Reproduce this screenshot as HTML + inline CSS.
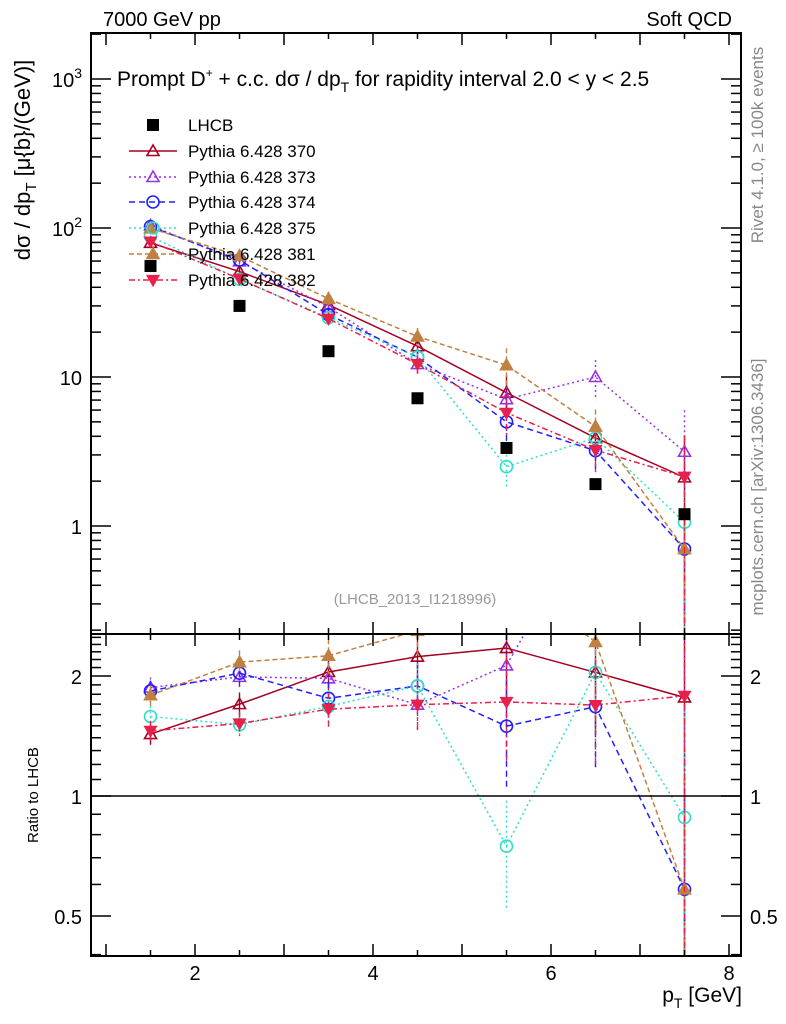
<!DOCTYPE html>
<html><head><meta charset="utf-8">
<style>
html,body{margin:0;padding:0;background:#fff;width:786px;height:1024px;overflow:hidden;}
svg{display:block;font-family:"Liberation Sans",sans-serif;}
</style></head>
<body>
<svg id="chart" width="786" height="1024" viewBox="0 0 786 1024">
<text x="103" y="26" font-size="20">7000 GeV pp</text>
<text x="732" y="26" font-size="20" text-anchor="end">Soft QCD</text>
<text transform="translate(763,145) rotate(-90)" font-size="17" fill="#888" text-anchor="middle">Rivet 4.1.0, ≥ 100k events</text>
<text transform="translate(763,487) rotate(-90)" font-size="17" fill="#888" text-anchor="middle">mcplots.cern.ch [arXiv:1306.3436]</text>
<text transform="translate(30,160) rotate(-90)" font-size="22" text-anchor="middle">dσ / dp<tspan font-size="15" dy="6">T</tspan><tspan dy="-6"> [μ{b}/(GeV)]</tspan></text>
<text transform="translate(38,795) rotate(-90)" font-size="15" text-anchor="middle">Ratio to LHCB</text>
<text x="742" y="1002" font-size="21" text-anchor="end">p<tspan font-size="14" dy="6">T</tspan><tspan dy="-6"> [GeV]</tspan></text>
<text x="117" y="86" font-size="21">Prompt D<tspan font-size="12" dy="-9">+</tspan><tspan dy="9"> + c.c.  dσ / dp</tspan><tspan font-size="14" dy="6">T</tspan><tspan dy="-6"> for rapidity interval 2.0 &lt; y &lt; 2.5</tspan></text>
<text x="415" y="604" font-size="15" fill="#999" text-anchor="middle">(LHCB_2013_I1218996)</text>
<g id="main"></g>
<g id="ratio"></g>
<g id="legend"></g>
</svg>
<script>
const xCenters = [1.5,2.5,3.5,4.5,5.5,6.5,7.5];
const dataLHCB = [55.6,30,14.9,7.2,3.34,1.91,1.2];
const s370 = [79.5,51,30.5,16.1,7.85,3.9,2.12];
const s373 = [104,59.7,29.4,12.2,7.1,10,3.15];
const s374 = [102,61,26.2,13.6,5.0,3.2,0.70];
const s375 = [88,45.3,25,13.6,2.5,3.9,1.06];
const s381 = [99.5,65,33.5,18.7,12,4.65,0.70];
const s382 = [81,45.6,24.6,12.2,5.75,3.23,2.14];
const relErr = [0.06,0.07,0.1,0.14,0.3,0.3,0.9];
const xTicks = [2,4,6,8];
const yTicks = [1,10,100,1000];
const yTickLabels = ["1","10","10²","10³"];
const rTicks = [0.5,1,2];
const rTickLabels = ["0.5","1","2"];
const legendNames = ["LHCB","Pythia 6.428 370","Pythia 6.428 373","Pythia 6.428 374","Pythia 6.428 375","Pythia 6.428 381","Pythia 6.428 382"];

const NS="http://www.w3.org/2000/svg";
const L=91,R=741,T=33,MB=634,RB=956;
const X=v=>195+(v-2)*89;
const Y=v=>79+(3-Math.log10(v))*149;
const RY=v=>796-120*Math.log2(v);
function mk(parent,tag,attrs){const e=document.createElementNS(NS,tag);for(const k in attrs)e.setAttribute(k,attrs[k]);parent.appendChild(e);return e;}
const svgRoot=document.getElementById('chart');
const main=document.getElementById('main'),ratio=document.getElementById('ratio'),leg=document.getElementById('legend');

const series=[
 {name:'pythia-370',v:s370,c:'#a50021',dash:'',m:'tri-open'},
 {name:'pythia-373',v:s373,c:'#9932e6',dash:'2,3',m:'tri-open'},
 {name:'pythia-374',v:s374,c:'#1f1fff',dash:'6,4',m:'circ-open'},
 {name:'pythia-375',v:s375,c:'#2ee0c8',dash:'2,3',m:'circ-open'},
 {name:'pythia-381',v:s381,c:'#c08040',dash:'5,3',m:'tri-fill'},
 {name:'pythia-382',v:s382,c:'#e8204c',dash:'6,3,2,3',m:'itri-fill'}
];

const defs=mk(svgRoot,'defs',{});
const c1=mk(defs,'clipPath',{id:'cm'});mk(c1,'rect',{x:L,y:T,width:R-L,height:MB-T});
const c2=mk(defs,'clipPath',{id:'cr'});mk(c2,'rect',{x:L,y:MB,width:R-L,height:RB-MB});

function marker(g,type,x,y,c,s){
 s=s||6;let e;
 if(type==='tri-open'||type==='tri-fill'){e=mk(g,'polygon',{points:`${x},${y-s} ${x-s},${y+s*0.75} ${x+s},${y+s*0.75}`,fill:type==='tri-fill'?c:'none',stroke:c,'stroke-width':1.6});}
 else if(type==='itri-fill'){e=mk(g,'polygon',{points:`${x},${y+s} ${x-s},${y-s*0.75} ${x+s},${y-s*0.75}`,fill:c,stroke:c,'stroke-width':1.2});}
 else if(type==='circ-open'){e=mk(g,'circle',{cx:x,cy:y,r:s,fill:'none',stroke:c,'stroke-width':1.6});}
 else {e=mk(g,'rect',{x:x-6,y:y-6,width:12,height:12,fill:'#000'});}
 return e;
}

function drawSeries(parent,clip,vals,fy,s,isRatio){
 const top=isRatio?MB:T, bot=isRatio?RB:MB;
 const clamp=y=>Math.min(bot,Math.max(top,y));
 const g=mk(parent,'g',{'clip-path':`url(#${clip})`});
 
 
 const pts=vals.map((v,i)=>`${X(xCenters[i])},${fy(v)}`).join(' ');
 const line=mk(g,'polyline',{points:pts,fill:'none',stroke:s.c,'stroke-width':1.5,'stroke-dasharray':s.dash});
 
 
 vals.forEach((v,i)=>{
  const x=X(xCenters[i]);const e=relErr[i];
  const lo=Math.max(v*(1-e),v*0.05);
  const eb=mk(g,'line',{x1:x,x2:x,y1:clamp(fy(v*(1+e))),y2:clamp(fy(lo)),stroke:s.c,'stroke-width':1.4,'stroke-dasharray':s.dash});
  
  
  const py=fy(v);
  if(py>top-10&&py<bot+10){
   const m=marker(g,s.m,x,py,s.c);
   
   
  }
 });
}

series.forEach(s=>drawSeries(main,'cm',s.v,Y,s,false));
dataLHCB.forEach((v,i)=>{const m=marker(main,'sq',X(xCenters[i]),Y(v));
 
 });

series.forEach(s=>drawSeries(ratio,'cr',s.v.map((v,i)=>v/dataLHCB[i]),RY,s,true));
const one=mk(ratio,'line',{x1:L,x2:R,y1:RY(1),y2:RY(1),stroke:'#000','stroke-width':1.5});



const f1=mk(main,'rect',{x:L,y:T,width:R-L,height:MB-T,fill:'none',stroke:'#000','stroke-width':2});


const f2=mk(ratio,'rect',{x:L,y:MB,width:R-L,height:RB-MB,fill:'none',stroke:'#000','stroke-width':2});



const ax=mk(svgRoot,'g',{stroke:'#000','stroke-width':1.5});


for(let v=1;v<=8;v+=0.5){const x=X(v);if(x<L||x>R)continue;const len=(v%1===0)?12:6;
 [[T,1],[MB,-1],[MB,1],[RB,-1]].forEach(([y,d])=>mk(ax,'line',{x1:x,x2:x,y1:y,y2:y+d*len}));}
xTicks.forEach(v=>{const t=mk(svgRoot,'text',{x:X(v),y:980,'font-size':20,'text-anchor':'middle'});t.textContent=v;
 
 });

for(let d=-1;d<=3;d++){for(let k=1;k<=9;k++){const v=k*Math.pow(10,d);const y=Y(v);if(y<T||y>MB)continue;const len=k===1?20:10;
 mk(ax,'line',{x1:L,x2:L+len,y1:y,y2:y});mk(ax,'line',{x1:R,x2:R-len,y1:y,y2:y});}}
yTicks.forEach((v,i)=>{const t=mk(svgRoot,'text',{x:82,y:Y(v)+8,'font-size':20,'text-anchor':'end'});
 const lab=yTickLabels[i];
 if(lab.length>2&&lab.startsWith('10')){t.textContent='10';const sp=mk(t,'tspan',{'font-size':14,dy:-9});sp.textContent=lab.slice(2)==='³'?'3':'2';}
 else t.textContent=lab;
 
 });

for(const v of [0.4,0.5,0.6,0.7,0.8,0.9,1,1.1,1.2,1.3,1.4,1.5,1.6,1.7,1.8,1.9,2,2.1,2.2,2.3,2.4,2.5]){const y=RY(v);if(y<MB||y>RB)continue;
 const len=(v===0.5||v===1||v===2)?20:10;mk(ax,'line',{x1:L,x2:L+len,y1:y,y2:y});mk(ax,'line',{x1:R,x2:R-len,y1:y,y2:y});}
rTicks.forEach((v,i)=>{[[82,'end'],[750,'start']].forEach(([x,a])=>{const t=mk(svgRoot,'text',{x:x,y:RY(v)+8,'font-size':20,'text-anchor':a});t.textContent=rTickLabels[i];
 
 });});

const ly=[125,151,177,202,228,254,280];
legendNames.forEach((n,i)=>{const g=mk(leg,'g',{});
 
 
 const y=ly[i];
 if(i===0){marker(g,'sq',153,y);}
 else{const s=series[i-1];mk(g,'line',{x1:129,x2:177,y1:y,y2:y,stroke:s.c,'stroke-width':1.5,'stroke-dasharray':s.dash});marker(g,s.m,153,y,s.c);}
 const t=mk(g,'text',{x:188,y:y+6,'font-size':17});t.textContent=n;});
</script>
</body></html>
